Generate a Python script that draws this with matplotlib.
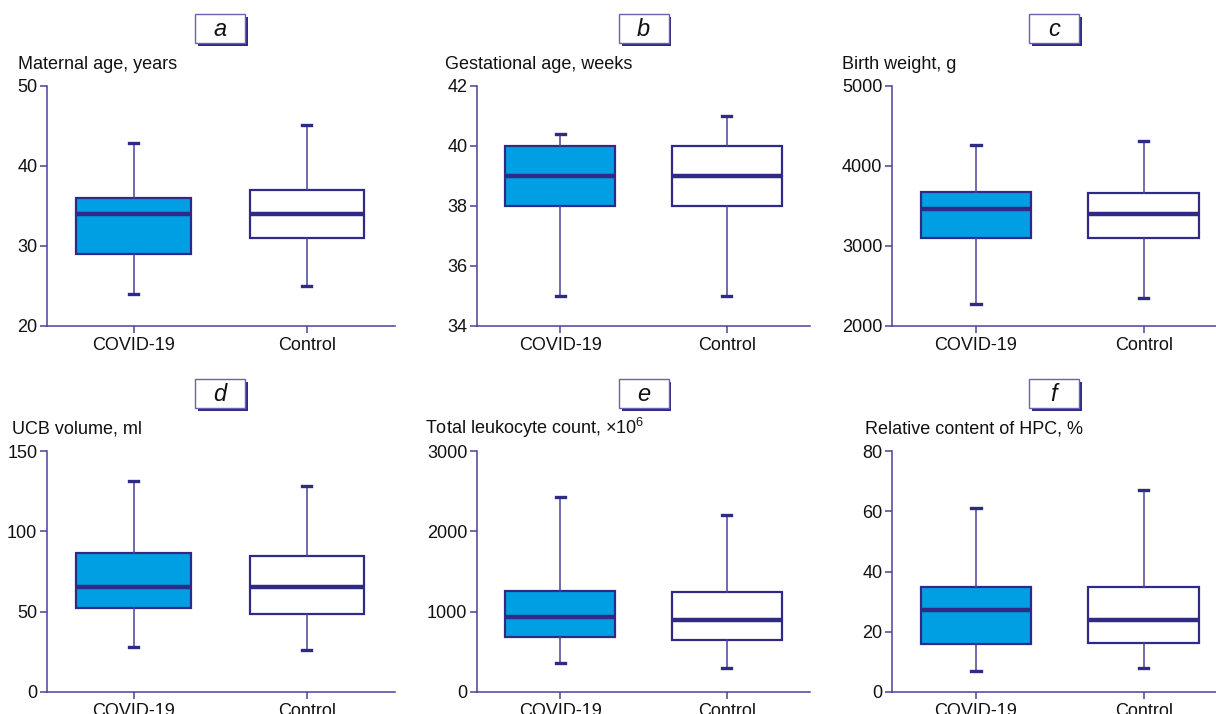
import matplotlib
matplotlib.use("Agg")
import matplotlib.pyplot as plt
from matplotlib.patches import Rectangle

plt.rcParams['font.family'] = ['Liberation Sans', 'DejaVu Sans']
plt.rcParams['mathtext.fontset'] = 'custom'
plt.rcParams['mathtext.rm'] = 'Liberation Sans'

# groups
groups = ['COVID-19', 'Control']

# box stats per panel: [whisker low, Q1, median, Q3, whisker high]
maternal_age_covid = [24, 29, 34, 36, 42.9]
maternal_age_ctrl = [25, 31, 34, 37, 45.1]
gest_age_covid = [35, 38, 39, 40, 40.4]
gest_age_ctrl = [35, 38, 39, 40, 41]
birth_weight_covid = [2270, 3096, 3463, 3679, 4258]
birth_weight_ctrl = [2346, 3096, 3396, 3667, 4313]
ucb_volume_covid = [27.9, 52.4, 65.4, 86.3, 131.3]
ucb_volume_ctrl = [26.4, 48.8, 65.2, 84.4, 128.4]
leuko_covid = [357, 685, 939, 1263, 2433]
leuko_ctrl = [304, 644, 897, 1245, 2209]
hpc_covid = [7.0, 15.9, 27.1, 34.8, 61.2]
hpc_ctrl = [8.1, 16.4, 24.0, 34.8, 66.9]

letters = ['a', 'b', 'c', 'd', 'e', 'f']
ylabels = ['Maternal age, years', 'Gestational age, weeks', 'Birth weight, g',
           'UCB volume, ml', r'Total leukocyte count, ×10$^{6}$', 'Relative content of HPC, %']
yticks = [[20, 30, 40, 50], [34, 36, 38, 40, 42], [2000, 3000, 4000, 5000],
          [0, 50, 100, 150], [0, 1000, 2000, 3000], [0, 20, 40, 60, 80]]
panel_data = [(maternal_age_covid, maternal_age_ctrl), (gest_age_covid, gest_age_ctrl),
              (birth_weight_covid, birth_weight_ctrl), (ucb_volume_covid, ucb_volume_ctrl),
              (leuko_covid, leuko_ctrl), (hpc_covid, hpc_ctrl)]

W, H = 1216, 714
navy = '#2E2A86'
spine_c = '#4A4299'
blue = '#009FE3'

fig = plt.figure(figsize=(W / 100, H / 100), dpi=100)

# axes layout in pixels (left, right) per column, (top, bottom) per row
cols = [(47, 395, 2.51), (477, 810, 2.5), (892, 1216, 2.43)]
rows = [(86, 326), (451, 692)]
ylabel_x = [18, 445, 842, 12, 425, 865]
ylabel_base = [69, 434]
letter_row_top = [14, 379]

for i in range(6):
    r, c = i // 3, i % 3
    left, right, xmax = cols[c]
    top, bottom = rows[r]
    ax = fig.add_axes([left / W, 1 - bottom / H, (right - left) / W, (bottom - top) / H])

    stats = []
    for vals, name in zip(panel_data[i], groups):
        stats.append(dict(whislo=vals[0], q1=vals[1], med=vals[2], q3=vals[3], whishi=vals[4],
                          label=name, fliers=[]))
    bp = ax.bxp(stats, positions=[1, 2], widths=0.66, capwidths=0.055, patch_artist=True,
                showfliers=False,
                boxprops=dict(edgecolor=navy, linewidth=1.6),
                medianprops=dict(color=navy, linewidth=3.2, solid_capstyle='butt'),
                whiskerprops=dict(color=spine_c, linewidth=1.1),
                capprops=dict(color=navy, linewidth=2.4))
    bp['boxes'][0].set_facecolor(blue)
    bp['boxes'][1].set_facecolor('white')

    ax.set_xlim(0.5, xmax)
    ax.set_ylim(yticks[i][0], yticks[i][-1])
    ax.set_yticks(yticks[i])
    ax.set_xticks([1, 2])
    ax.set_xticklabels(groups)
    for s in ['top', 'right']:
        ax.spines[s].set_visible(False)
    for s in ['left', 'bottom']:
        ax.spines[s].set_color(spine_c)
        ax.spines[s].set_linewidth(1.1)
    ax.spines['bottom'].set_zorder(0.5)
    ax.tick_params(axis='both', colors=spine_c, labelcolor='#111111', labelsize=13, width=1.1)
    ax.tick_params(axis='y', length=5, pad=2)
    ax.tick_params(axis='x', length=5, pad=3)
    ax.patch.set_alpha(0)

    # y label above the axis
    fig.text(ylabel_x[i] / W, 1 - ylabel_base[r] / H, ylabels[i], fontsize=13,
             ha='left', va='baseline', color='#111111')

    # panel letter in a shadowed box
    cx = (left + min(right, left + (2.5 - 0.5) / (xmax - 0.5) * (right - left))) / 2
    bw, bh = 50, 29
    bx, by = cx - bw / 2, letter_row_top[r]
    fig.add_artist(Rectangle(((bx + 3) / W, 1 - (by + bh + 3) / H), bw / W, bh / H,
                             transform=fig.transFigure, facecolor=navy, edgecolor='none'))
    fig.add_artist(Rectangle((bx / W, 1 - (by + bh) / H), bw / W, bh / H,
                             transform=fig.transFigure, facecolor='white',
                             edgecolor='#6A62B0', linewidth=1.0))
    fig.text(cx / W, 1 - (by + bh / 2 + 1) / H, letters[i], fontsize=17, style='italic',
             ha='center', va='center', color='#111111')

plt.savefig('out.png', dpi=100)
